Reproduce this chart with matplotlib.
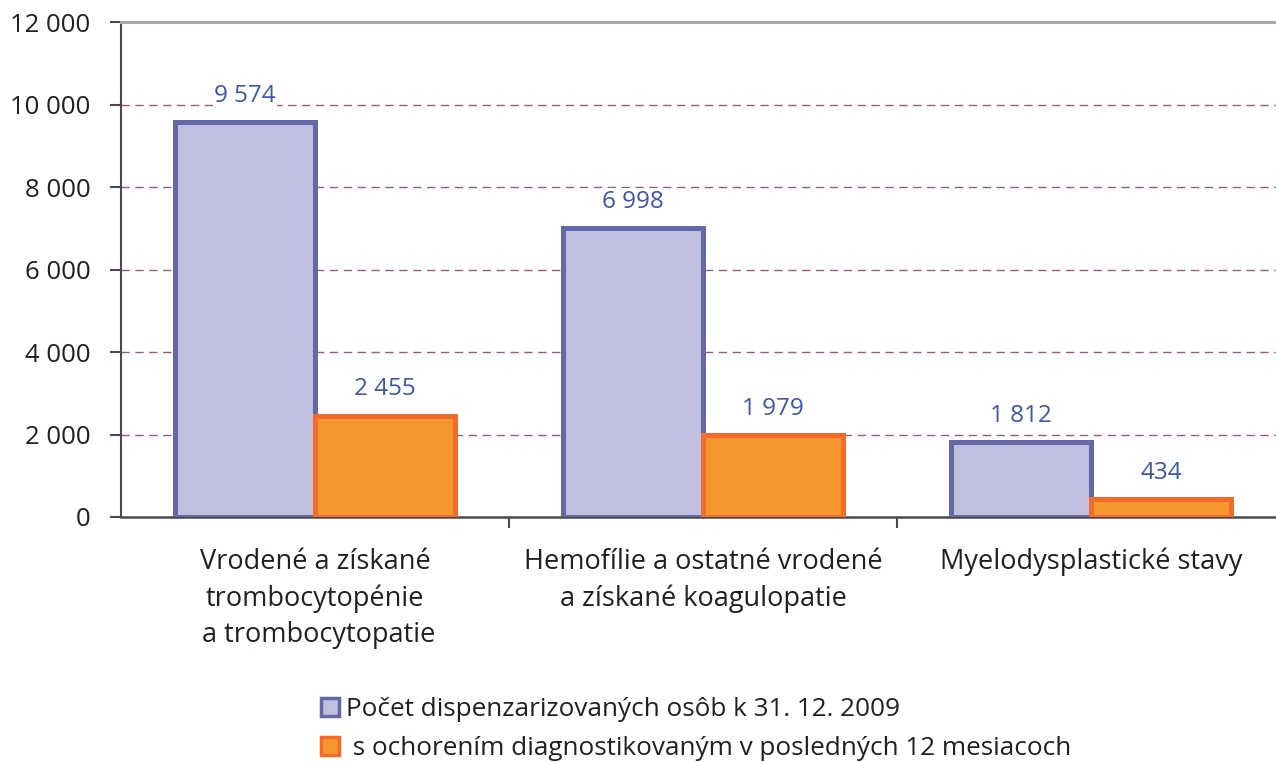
import matplotlib
matplotlib.use("Agg")
import matplotlib.pyplot as plt
from matplotlib.patches import Patch
import numpy as np

categories = ["Vrodené a získané\ntrombocytopénie\n a trombocytopatie",
              "Hemofílie a ostatné vrodené\na získané koagulopatie",
              "Myelodysplastické stavy"]
series_names = ["Počet dispenzarizovaných osôb k 31. 12. 2009",
                " s ochorením diagnostikovaným v posledných 12 mesiacoch"]
dispenz = [9574, 6998, 1812]
new_cases = [2455, 1979, 434]
yticks = [0, 2000, 4000, 6000, 8000, 10000, 12000]
ytick_labels = ["0", "2 000", "4 000", "6 000", "8 000", "10 000", "12 000"]

plt.rcParams['font.family'] = ['Open Sans', 'DejaVu Sans']

fig = plt.figure(figsize=(12.76, 7.62), dpi=100)
ax = fig.add_axes([121/1276, 1-517/762, 1164/1276, (517-22)/762])

x = np.arange(len(categories))
w = 0.36
blue_face, blue_edge = "#c0bfdf", "#6468a4"
or_face, or_edge = "#f5962e", "#f26b2c"
ax.bar(x - w/2, dispenz, w, color=blue_face, edgecolor=blue_edge, linewidth=3.6, zorder=3)
ax.bar(x + w/2, new_cases, w, color=or_face, edgecolor=or_edge, linewidth=3.6, zorder=3)

lab_col = "#3f55a6"
def fmt(v):
    return f"{v:,}".replace(",", " ")
for xi, v in zip(x - w/2, dispenz):
    ax.text(xi, v + 350, fmt(v), ha="center", va="bottom", color=lab_col, fontsize=17.5,
            bbox=dict(facecolor="white", edgecolor="none", pad=1), zorder=4)
for xi, v in zip(x + w/2, new_cases):
    ax.text(xi, v + 350, fmt(v), ha="center", va="bottom", color=lab_col, fontsize=17.5,
            bbox=dict(facecolor="white", edgecolor="none", pad=1), zorder=4)

ax.set_xlim(-0.5, 2.5)
ax.set_ylim(0, 12000)
ax.set_yticks(yticks)
ax.set_yticklabels(ytick_labels, fontsize=18.5, color="#231f20")
ax.tick_params(axis="y", length=8, width=1.5, color="#4a4a4a", pad=14)

for yv in yticks[1:-1]:
    ax.axhline(yv, color="#9a5a84", linestyle=(0, (6, 4)), linewidth=1.0, zorder=1)

ax.set_xticks(x)
ax.set_xticklabels(categories, fontsize=19.5, color="#231f20", linespacing=1.4)
ax.tick_params(axis="x", length=0, pad=22)
ax.set_xticks([0.5, 1.5], minor=True)
ax.tick_params(axis="x", which="minor", length=8, width=1.5, color="#4a4a4a")

ax.spines["right"].set_visible(False)
ax.spines["top"].set_color("#a8a8a8")
ax.spines["top"].set_linewidth(2.2)
ax.spines["left"].set_color("#4a4a4a")
ax.spines["left"].set_linewidth(1.5)
ax.spines["bottom"].set_color("#4a4a4a")
ax.spines["bottom"].set_linewidth(1.8)

handles = [Patch(facecolor=blue_face, edgecolor=blue_edge, linewidth=2.5),
           Patch(facecolor=or_face, edgecolor=or_edge, linewidth=2.5)]
fig.legend(handles, series_names, loc="upper left", bbox_to_anchor=(313/1276, 1-689/762),
           frameon=False, fontsize=18.8, handlelength=0.7, handleheight=0.7,
           handletextpad=0.25, labelspacing=0.55, labelcolor="#231f20", borderaxespad=0,
           borderpad=0.3)

fig.savefig("out.png", dpi=100)
